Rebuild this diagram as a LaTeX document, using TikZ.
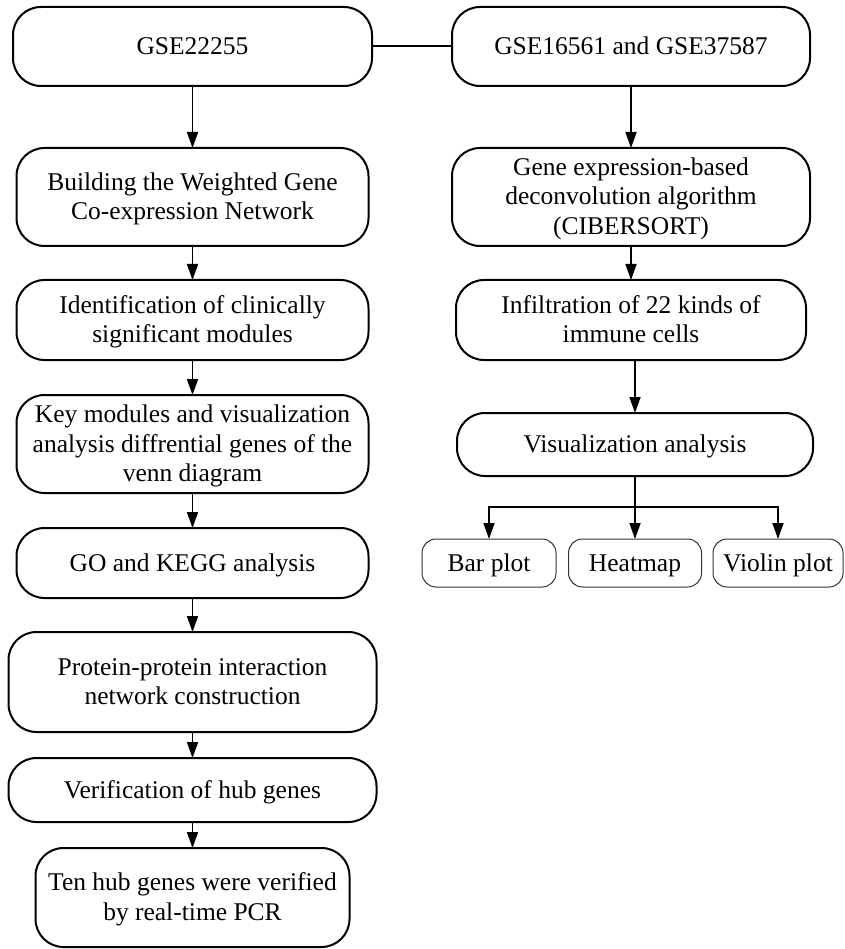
\documentclass[tikz,border=0pt]{standalone}
\usepackage{fontspec}
\setmainfont{Liberation Serif}
\usetikzlibrary{arrows.meta}
\newcommand\Ls{\rule[-6.75pt]{0pt}{29.5pt}}
\begin{document}
\begin{tikzpicture}[x=1pt,y=-1pt,
  mainbox/.style={draw, line width=2pt, rounded corners=28pt, align=center,
    inner sep=0pt, outer sep=0pt, font=\fontsize{25.5}{29.5}\selectfont},
  smallbox/.style={draw=black!80, line width=1pt, rounded corners=14pt, align=center,
    inner sep=0pt, outer sep=0pt, font=\fontsize{25.5}{29.5}\selectfont},
  arr/.style={-{Triangle[length=16pt,width=11pt]}, line width=1.7pt},
  link/.style={line width=2pt}]
\useasboundingbox (0,0) rectangle (844,949);
% left column
\node[mainbox, minimum width=359pt, minimum height=79pt] (L1) at (192.5,46.5) {\Ls GSE22255};
\node[mainbox, minimum width=352pt, minimum height=98pt] (L2) at (192.5,197) {\Ls Building the Weighted Gene\\\Ls Co-expression Network};
\node[mainbox, minimum width=352pt, minimum height=80pt] (L3) at (192.5,320) {\Ls Identification of clinically\\\Ls significant modules};
\node[mainbox, minimum width=352pt, minimum height=98pt] (L4) at (192.5,444) {\Ls Key modules and visualization\\\Ls analysis diffrential genes of the\\\Ls venn diagram};
\node[mainbox, minimum width=352pt, minimum height=70pt] (L5) at (192.5,563) {\Ls GO and KEGG analysis};
\node[mainbox, minimum width=368pt, minimum height=100pt] (L6) at (192.5,682) {\Ls Protein-protein interaction\\\Ls network construction};
\node[mainbox, minimum width=368pt, minimum height=64pt] (L7) at (192.5,790) {\Ls Verification of hub genes};
\node[mainbox, minimum width=314pt, minimum height=99pt] (L8) at (192.5,897.5) {\Ls Ten hub genes were verified\\\Ls by real-time PCR};
% right column
\node[mainbox, minimum width=358pt, minimum height=79pt] (R1) at (631,46.5) {\Ls GSE16561 and GSE37587};
\node[mainbox, minimum width=358pt, minimum height=98pt] (R2) at (631,197) {\Ls Gene expression-based\\\Ls deconvolution algorithm\\\Ls (CIBERSORT)};
\node[mainbox, minimum width=350pt, minimum height=80pt] (R3) at (631,320) {\Ls Infiltration of 22 kinds of\\\Ls immune cells};
\node[mainbox, minimum width=356pt, minimum height=63pt] (R4) at (635,444.5) {\Ls Visualization analysis};
\node[smallbox, minimum width=134pt, minimum height=48pt] (S1) at (489,563) {\Ls Bar plot};
\node[smallbox, minimum width=133pt, minimum height=48pt] (S2) at (635,563) {\Ls Heatmap};
\node[smallbox, minimum width=130pt, minimum height=48pt] (S3) at (778,563) {\Ls Violin plot};
% connectors
\draw[link] (L1) -- (R1);
\draw[arr] (L1) -- (L2);
\draw[arr] (L2) -- (L3);
\draw[arr] (L3) -- (L4);
\draw[arr] (L4) -- (L5);
\draw[arr] (L5) -- (L6);
\draw[arr] (L6) -- (L7);
\draw[arr] (L7) -- (L8);
\draw[arr] (R1) -- (R2);
\draw[arr] (R2) -- (R3);
\draw[arr] (R4.north |- R3.south) -- (R4.north);
\draw[link] (R4.south) -- ++(0,31) coordinate (fork);
\draw[arr] (fork) -| (S1.north);
\draw[arr] (fork) -| (S3.north);
\draw[arr] (fork) -- (S2.north);
\end{tikzpicture}
\end{document}
